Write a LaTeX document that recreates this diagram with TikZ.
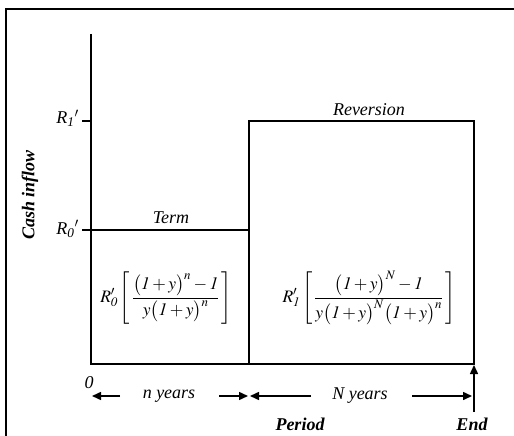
\documentclass[tikz,border=0pt]{standalone}
\usepackage{amsmath}
\usepackage{mathptmx}
\usepackage{fontspec}
\setmainfont{Liberation Serif}
\usetikzlibrary{arrows.meta}
\begin{document}
\begin{tikzpicture}[x=1pt,y=-1pt,
  axis/.style={line width=1.2pt},
  frame/.style={line width=2pt},
  lab/.style={font=\fontsize{18}{20}\selectfont\itshape, inner sep=0pt},
  blab/.style={font=\fontsize{18}{20}\selectfont\bfseries\itshape, inner sep=0pt},
  fml/.style={font=\fontsize{17.5}{20}\selectfont, inner sep=0pt},
  arr/.style={line width=1.5pt,-{Triangle[length=9pt,width=8pt]}}]
\useasboundingbox (0,0) rectangle (514,436);
% outer frame
\draw[frame] (6,446) -- (6,9) -- (530,9);
% coordinates
\coordinate (top) at (91,34);
\coordinate (O) at (91,364);
\coordinate (r1) at (91,121);
\coordinate (r0) at (91,230);
\coordinate (r1t) at (82,121);
\coordinate (r0t) at (82,230);
\coordinate (mb) at (249,364);
\coordinate (m0) at (249,230);
\coordinate (m1) at (249,121);
\coordinate (e1) at (474,121);
\coordinate (eb) at (474,364);
% axes and boxes
\draw[axis] (top) -- (O) -- (eb) -- (e1) -- (m1) -- (mb);
\draw[axis] (r0t) -- (r0) -- (m0);
\draw[axis] (r1t) -- (r1);
% labels
\node[lab, anchor=east] (R1) at (79,118) {R\textsubscript{1}$'$};
\node[lab, anchor=east] (R0) at (79,229) {R\textsubscript{0}$'$};
\node[blab, rotate=90] (cash) at (30,195) {Cash inflow};
\node[lab] (term) at (171,218) {Term};
\node[lab] (rev) at (369,110) {Reversion};
\node[fml] (f0) at (166,298) {$\displaystyle R'_{\mathit{0}}\left[\,\frac{\bigl(\mathit{1}+y\bigr)^{n}-\mathit{1}}{y\bigl(\mathit{1}+y\bigr)^{n}}\,\right]$};
\node[fml] (f1) at (369,298) {$\displaystyle R'_{\mathit{1}}\left[\,\frac{\bigl(\mathit{1}+y\bigr)^{N}-\mathit{1}}{y\bigl(\mathit{1}+y\bigr)^{N}\bigl(\mathit{1}+y\bigr)^{n}}\,\right]$};
% bottom
\node[lab] (zero) at (89,383) {0};
\node[lab] (ny) at (169,396) {n years};
\node[lab] (Ny) at (360,396) {N years};
\node[blab] (period) at (300,424) {Period};
\node[blab] (end) at (472,424) {End};
\coordinate (a1s) at (120,396);
\coordinate (a1e) at (92,396);
\coordinate (a2s) at (219,396);
\coordinate (a2e) at (248,396);
\coordinate (a3s) at (311,396);
\coordinate (a3e) at (250,396);
\coordinate (a4s) at (412,396);
\coordinate (a4e) at (472,396);
\coordinate (a5s) at (474,412);
\coordinate (a5e) at (474,365);
\draw[arr] (a1s) -- (a1e);
\draw[arr] (a2s) -- (a2e);
\draw[arr] (a3s) -- (a3e);
\draw[arr] (a4s) -- (a4e);
\draw[arr] (a5s) -- (a5e);
\end{tikzpicture}
\end{document}
